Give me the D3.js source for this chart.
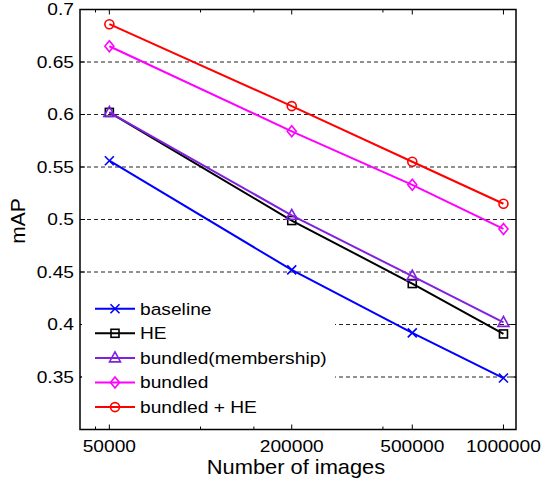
<!DOCTYPE html>
<html><head><meta charset="utf-8">
<script src="https://cdn.jsdelivr.net/npm/d3@7"></script>
<style>body{margin:0;background:#fff}svg{display:block;font-family:"Liberation Sans",Arial,sans-serif}</style>
</head><body><svg id="c" width="545" height="479"></svg>
<script>
const imageCounts = [50000, 200000, 500000, 1000000];
const xTickLabels = ["50000", "200000", "500000", "1000000"];
const xMinorTicks = [45000, 100000, 150000, 400000];
const yTicks = [0.35, 0.4, 0.45, 0.5, 0.55, 0.6, 0.65, 0.7];
const seriesNames = ["baseline", "HE", "bundled(membership)", "bundled", "bundled + HE"];
const baseline = [0.556, 0.452, 0.392, 0.349];
const he = [0.602, 0.499, 0.439, 0.391];
const bundledMembership = [0.602, 0.504, 0.446, 0.402];
const bundled = [0.665, 0.584, 0.533, 0.491];
const bundledHE = [0.686, 0.608, 0.555, 0.515];

const colors = ["#0000ff", "#000000", "#8020e0", "#ff00ff", "#ff0000"];
const markers = ["x", "square", "triangle", "diamond", "circle"];
const seriesValues = [baseline, he, bundledMembership, bundled, bundledHE];

const svg = d3.select("#c");
const L = 80, R = 516, T = 9.5, B = 429.5;
const x = d3.scaleLog().domain([40000, 1100000]).range([L, R]);
const y = d3.scaleLinear().domain([0.3, 0.7]).range([B, T]);
const SX = 1.13;

function label(parent, tx, ty, str, size, anchor, sx, dy) {
  return parent.append("text")
    .attr("transform", `translate(${tx},${ty}) scale(${sx},1)`)
    .attr("text-anchor", anchor).attr("dy", dy || 0)
    .attr("font-size", size).attr("fill", "#000").text(str);
}

// grid
svg.append("g").selectAll("line").data(yTicks.filter(d => d < 0.7)).join("line")
  .attr("x1", L).attr("x2", R).attr("y1", d => y(d)).attr("y2", d => y(d))
  .attr("stroke", "#222").attr("stroke-width", 1).attr("stroke-dasharray", "4,3");

// axes frame
svg.append("rect").attr("x", L).attr("y", T).attr("width", R - L).attr("height", B - T)
  .attr("fill", "none").attr("stroke", "#000").attr("stroke-width", 1.5);

const tk = 5;
const g = svg.append("g").attr("stroke", "#000").attr("stroke-width", 1);
yTicks.forEach(v => {
  g.append("line").attr("x1", L).attr("x2", L + tk).attr("y1", y(v)).attr("y2", y(v));
  g.append("line").attr("x1", R).attr("x2", R - tk).attr("y1", y(v)).attr("y2", y(v));
});
imageCounts.concat(xMinorTicks).forEach((v, i) => {
  const len = i < imageCounts.length ? tk : 3;
  g.append("line").attr("x1", x(v)).attr("x2", x(v)).attr("y1", B).attr("y2", B - len);
  g.append("line").attr("x1", x(v)).attr("x2", x(v)).attr("y1", T).attr("y2", T + len);
});

// tick labels
const yl = svg.append("g");
yTicks.forEach(v => label(yl, L - 6, y(v), d3.format("")(v), 17, "end", SX, "0.35em"));
const xl = svg.append("g");
imageCounts.forEach((v, i) => label(xl, x(v), 451.5, xTickLabels[i], 17, "middle", SX));

label(svg, 296, 473.5, "Number of images", 21, "middle", 1.04);
svg.append("text").attr("transform", "translate(24.5,221) rotate(-90)").attr("text-anchor", "middle")
  .attr("font-size", 21).text("mAP");

function drawMarker(sel, type, cx, cy, color) {
  const s = sel.append("g").attr("transform", `translate(${cx},${cy})`)
    .attr("fill", "none").attr("stroke", color).attr("stroke-width", 1.6);
  if (type === "x") {
    s.append("path").attr("d", "M-4.5,-4.5L4.5,4.5M-4.5,4.5L4.5,-4.5");
  } else if (type === "square") {
    s.append("rect").attr("x", -4).attr("y", -4).attr("width", 8).attr("height", 8);
  } else if (type === "triangle") {
    s.append("path").attr("d", "M0,-6L5.5,4L-5.5,4Z");
  } else if (type === "diamond") {
    s.append("path").attr("d", "M0,-5.5L4.5,0L0,5.5L-4.5,0Z");
  } else {
    s.append("circle").attr("r", 4.5);
  }
}

const line = d3.line().x((d, i) => x(imageCounts[i])).y(d => y(d));
seriesValues.forEach((vals, k) => {
  svg.append("path").datum(vals).attr("d", line).attr("fill", "none")
    .attr("stroke", colors[k]).attr("stroke-width", 2);
  vals.forEach((v, i) => drawMarker(svg, markers[k], x(imageCounts[i]), y(v), colors[k]));
});

// legend
const lg = svg.append("g");
lg.append("rect").attr("x", L + 2).attr("y", 294).attr("width", 253).attr("height", 128).attr("fill", "#fff");
seriesNames.forEach((name, k) => {
  const yy = 308.7 + k * 24.6;
  lg.append("line").attr("x1", 95).attr("x2", 135).attr("y1", yy).attr("y2", yy)
    .attr("stroke", colors[k]).attr("stroke-width", 2);
  drawMarker(lg, markers[k], 115, yy, colors[k]);
  label(lg, 140, yy, name, 17, "start", SX, "0.35em");
});
</script></body></html>
